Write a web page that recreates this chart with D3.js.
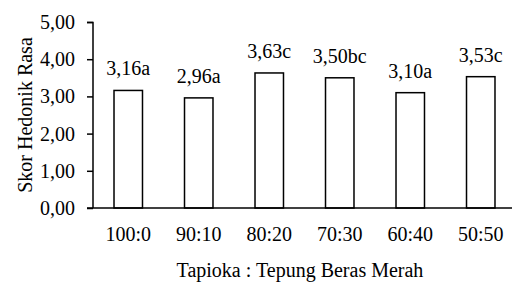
<!DOCTYPE html>
<html><head><meta charset="utf-8">
<script src="https://cdn.jsdelivr.net/npm/d3@7"></script>
</head><body style="margin:0;background:#fff"><svg id="c" width="512" height="284" style="display:block"></svg>
<script>
const categories = ["100:0","90:10","80:20","70:30","60:40","50:50"];
const values = [3.16, 2.96, 3.63, 3.50, 3.10, 3.53];
const notations = ["a","a","c","bc","a","c"];
const yTicks = [0,1,2,3,4,5];
const yTitle = "Skor Hedonik Rasa";
const xTitle = "Tapioka : Tepung Beras Merah";

const svg = d3.select("#c");
const fmt = v => v.toFixed(2).replace(".", ",");
const x = d3.scaleBand().domain(categories).range([93, 516]).paddingInner(0.596).paddingOuter(0.298);
const y = d3.scaleLinear().domain([0,5]).range([208, 22]);

function serif(sel){ return sel.style("font-family",'"Times New Roman"').attr("font-size",20).attr("fill","#000"); }

// y axis
const ya = svg.append("g").attr("transform","translate(93,0)")
  .call(d3.axisLeft(y).tickValues(yTicks).tickSize(6).tickPadding(12).tickFormat(fmt));
ya.attr("font-family",null).attr("font-size",null);
ya.select(".domain").attr("stroke","#000").attr("stroke-width",1.5).attr("d","M-6,22.5H0V208");
ya.selectAll(".tick line").attr("stroke","#000").attr("stroke-width",1.5);
serif(ya.selectAll(".tick text"));

// bars
svg.append("g").selectAll("rect").data(values).join("rect")
  .attr("x",(d,i)=>x(categories[i])).attr("width",x.bandwidth())
  .attr("y",d=>y(d)).attr("height",d=>y(0)-y(d))
  .attr("fill","#fff").attr("stroke","#000").attr("stroke-width",1.5);

// baseline
svg.append("line").attr("x1",87).attr("x2",512).attr("y1",y(0)).attr("y2",y(0))
  .attr("stroke","#000").attr("stroke-width",1.5);

// labels
serif(svg.append("g").selectAll("text").data(values).join("text")
  .attr("x",(d,i)=>x(categories[i])+x.bandwidth()/2).attr("y",d=>y(d)-15)
  .attr("text-anchor","middle"))
  .text((d,i)=>fmt(d)+notations[i]);

// x tick labels
serif(svg.append("g").selectAll("text").data(categories).join("text")
  .attr("x",d=>x(d)+x.bandwidth()/2).attr("y",241)
  .attr("text-anchor","middle")).text(d=>d);

serif(svg.append("text").attr("x",300).attr("y",277).attr("text-anchor","middle")).text(xTitle);
serif(svg.append("text").attr("transform","translate(32,115) rotate(-90)").attr("text-anchor","middle")).text(yTitle);
</script></body></html>
